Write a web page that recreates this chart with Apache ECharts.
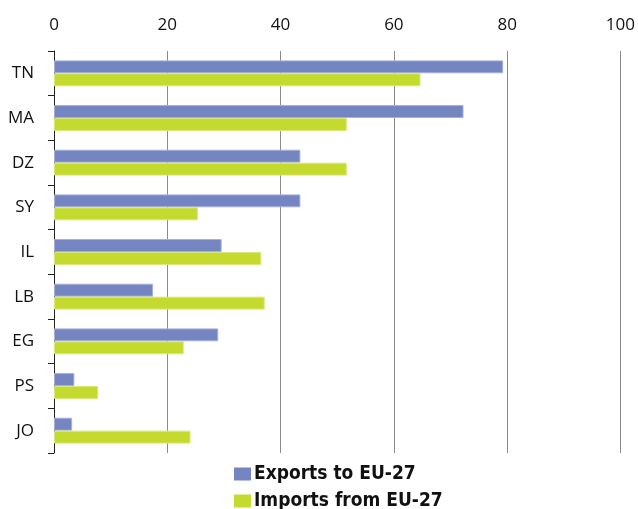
<!DOCTYPE html>
<html>
<head>
<meta charset="utf-8">
<script src="https://cdn.jsdelivr.net/npm/echarts@6/dist/echarts.min.js"></script>
<style>html,body{margin:0;padding:0;background:#fff}#c{width:638px;height:509px}</style>
</head>
<body>
<div id="c"></div>
<script>
const categories = ['TN', 'MA', 'DZ', 'SY', 'IL', 'LB', 'EG', 'PS', 'JO'];
const exportsToEU = [79.3, 72.3, 43.5, 43.5, 29.6, 17.5, 29.0, 3.6, 3.2];
const importsFromEU = [64.7, 51.7, 51.7, 25.4, 36.6, 37.2, 22.9, 7.8, 24.1];
const seriesNames = ['Exports to EU-27', 'Imports from EU-27'];

const chart = echarts.init(document.getElementById('c'), null, {renderer: 'canvas'});
const font = '"Open Sans", "Noto Sans", sans-serif';
const legendFont = '"Liberation Sans Narrow", "DejaVu Sans Condensed", "Open Sans", sans-serif';
function legendFor(name, top) {
  return {
    orient: 'vertical', left: 234, top: top, padding: 0,
    itemWidth: 17, itemHeight: 13, itemGap: 0,
    icon: 'rect',
    itemStyle: {borderWidth: 0},
    textStyle: {fontFamily: legendFont, fontWeight: 'bold', fontSize: 19, lineHeight: 20, color: '#111', padding: [0, 0, 0, -2]},
    data: [name]
  };
}
chart.setOption({
  animation: false,
  backgroundColor: '#ffffff',
  textStyle: {fontFamily: font},
  grid: {left: 54, right: 15, top: 51, bottom: 56, containLabel: false},
  legend: [legendFor(seriesNames[0], 464), legendFor(seriesNames[1], 491)],
  xAxis: {
    type: 'value', position: 'top', min: 0, max: 100, interval: 20,
    axisLine: {show: false}, axisTick: {show: false},
    axisLabel: {fontSize: 17, color: '#111', margin: 17, fontFamily: font},
    splitLine: {show: true, lineStyle: {color: '#8a8a8a', width: 1}}
  },
  yAxis: {
    type: 'category', data: categories, inverse: true,
    axisLine: {show: true, lineStyle: {color: '#222', width: 1}},
    axisTick: {show: true, length: 6, lineStyle: {color: '#222'}},
    axisLabel: {fontSize: 17, color: '#111', margin: 20, fontFamily: font}
  },
  series: [
    {
      name: seriesNames[0], type: 'bar', data: exportsToEU,
      barGap: '0%', barCategoryGap: '42%',
      itemStyle: {color: '#7585c2', borderColor: '#a6b0da', borderWidth: 1}
    },
    {
      name: seriesNames[1], type: 'bar', data: importsFromEU,
      barGap: '0%', barCategoryGap: '42%',
      itemStyle: {color: '#c4da2e', borderColor: '#d9e87a', borderWidth: 1}
    }
  ]
});
</script>
</body>
</html>
